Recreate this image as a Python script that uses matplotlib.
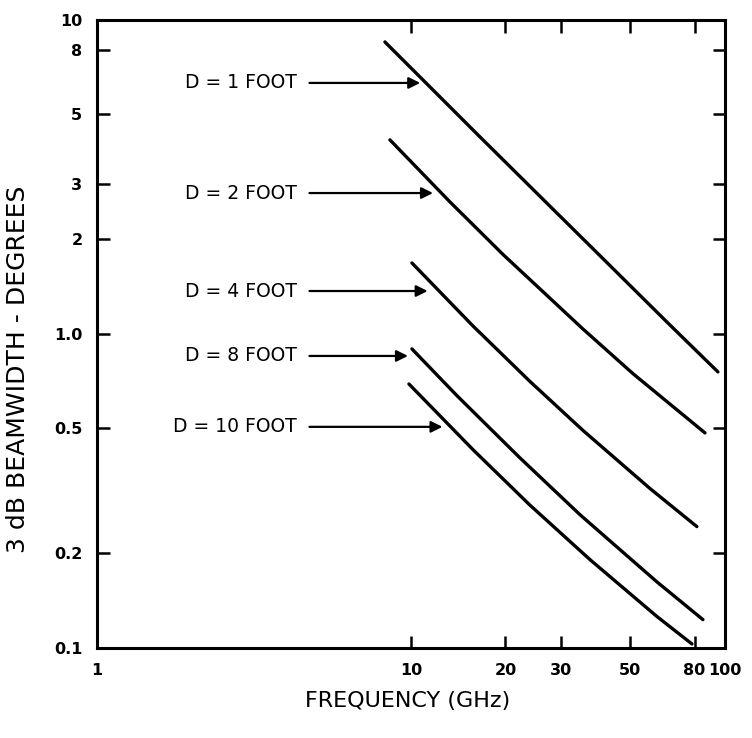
import matplotlib
matplotlib.use("Agg")
import matplotlib.pyplot as plt
from matplotlib.ticker import FixedLocator, FixedFormatter, NullLocator

plt.rcParams['font.family'] = ['DejaVu Sans']

# Curvas (GHz, grados)
f_1ft = [8.26, 10.92, 16.59, 37.2, 66.8, 95.0]
bw_1ft = [8.51, 6.44, 4.24, 1.907, 1.068, 0.757]
f_2ft = [8.57, 13.31, 19.63, 35.3, 50.9, 86.4]
bw_2ft = [4.15, 2.633, 1.792, 1.037, 0.748, 0.484]
f_4ft = [10.07, 15.76, 23.93, 35.3, 57.7, 81.4]
bw_4ft = [1.683, 1.060, 0.706, 0.493, 0.322, 0.2435]
f_8ft = [10.07, 14.01, 22.24, 34.5, 60.7, 85.1]
bw_8ft = [0.896, 0.636, 0.403, 0.266, 0.1624, 0.1231]
f_10ft = [9.85, 15.76, 23.93, 37.2, 60.7, 78.5]
bw_10ft = [0.693, 0.428, 0.285, 0.191, 0.126, 0.103]

labels = ['D = 1 FOOT', 'D = 2 FOOT', 'D = 4 FOOT', 'D = 8 FOOT', 'D = 10 FOOT']
# punta de flecha (GHz, grados)
tip_f = [10.7, 11.75, 11.3, 9.78, 12.6]
tip_bw = [6.3, 2.81, 1.37, 0.851, 0.506]

xticks = [1, 10, 20, 30, 50, 80, 100]
xticklabels = ['1', '10', '20', '30', '50', '80', '100']
yticks = [0.1, 0.2, 0.5, 1, 2, 3, 5, 8, 10]
yticklabels = ['0.1', '0.2', '0.5', '1.0', '2', '3', '5', '8', '10']

fig = plt.figure(figsize=(7.52, 7.38), dpi=100)
ax = fig.add_axes([0.129, 0.122, 0.835, 0.851])
ax.set_xscale('log')
ax.set_yscale('log')
ax.set_xlim(1, 100)
ax.set_ylim(0.1, 10)

for f, bw in [(f_1ft, bw_1ft), (f_2ft, bw_2ft), (f_4ft, bw_4ft),
              (f_8ft, bw_8ft), (f_10ft, bw_10ft)]:
    ax.plot(f, bw, color='black', lw=2.4, solid_capstyle='round')

for lab, tf, tb in zip(labels, tip_f, tip_bw):
    ax.text(4.33, tb, lab, ha='right', va='center', fontsize=13.5,
            color='black')
    ax.annotate('', xy=(tf, tb), xytext=(4.75, tb),
                arrowprops=dict(arrowstyle='-|>', color='black', lw=1.6,
                                mutation_scale=17, shrinkA=0, shrinkB=0))

ax.xaxis.set_major_locator(FixedLocator(xticks))
ax.xaxis.set_major_formatter(FixedFormatter(xticklabels))
ax.xaxis.set_minor_locator(NullLocator())
ax.yaxis.set_major_locator(FixedLocator(yticks))
ax.yaxis.set_major_formatter(FixedFormatter(yticklabels))
ax.yaxis.set_minor_locator(NullLocator())

ax.tick_params(axis='both', which='major', direction='in', length=9, width=1.8,
               top=True, right=True, labelsize=11.5, pad=10.5)
for lab in ax.get_xticklabels() + ax.get_yticklabels():
    lab.set_fontweight('bold')

for s in ax.spines.values():
    s.set_linewidth(2.2)

ax.set_xlabel('FREQUENCY (GHz)', fontsize=16)
ax.xaxis.set_label_coords(0.494, -0.068)
ax.set_ylabel('3 dB BEAMWIDTH - DEGREES', fontsize=18)
ax.yaxis.set_label_coords(-0.107, 0.443)

fig.savefig('out.png', dpi=100)
